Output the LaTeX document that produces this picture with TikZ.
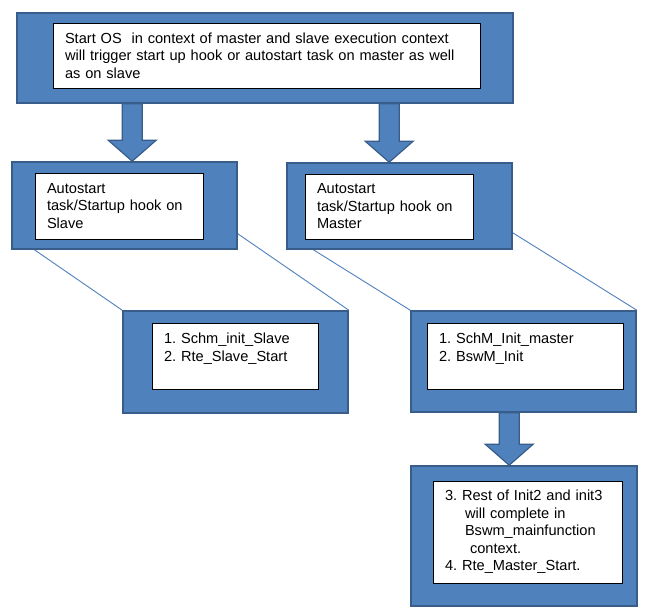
\documentclass[tikz,border=0pt]{standalone}
\usepackage{fontspec}
\setmainfont{Liberation Sans}
\usetikzlibrary{calc,backgrounds}
\definecolor{boxblue}{RGB}{79,129,189}
\definecolor{boxedge}{RGB}{56,93,138}
\tikzset{
  obox/.style={rectangle,draw=boxedge,fill=boxblue,line width=1.6pt,inner sep=0pt},
  ibox/.style={rectangle,draw=black,fill=white,line width=0.9pt,inner xsep=12pt,inner ysep=0pt,
    align=left,font=\fontsize{14.6}{17.5}\selectfont\frenchspacing},
  link/.style={draw=boxblue,line width=0.9pt},
  barrow/.style={draw=boxedge,fill=boxblue,line width=1.2pt,line join=miter,
    to path={let \p1=(\tikztostart), \p2=(\tikztotarget) in
      (\x1-10pt,\y1) -- (\x1-10pt,\y2+21pt) -- (\x1-24pt,\y2+21pt) -- (\x1,\y2)
      -- (\x1+24pt,\y2+21pt) -- (\x1+10pt,\y2+21pt) -- (\x1+10pt,\y1) -- cycle}}
}

\begin{document}
\begin{tikzpicture}[x=1pt,y=-1pt]
\useasboundingbox (0,0) rectangle (662,616);
% start OS
\node[obox, minimum width=496pt, minimum height=90pt] (top) at (265,58) {};
\node[ibox, text width=403pt, minimum height=65pt] (toptext) at (266.5,55.5)
  {Start OS\ \ in context of master and slave execution context\\will trigger start up hook or autostart task on master as well\\as on slave};
% slave / master
\node[obox, minimum width=225pt, minimum height=87pt] (slave) at (124.5,205.5) {};
\node[ibox, text width=144pt, minimum height=66pt] (slavetext) at (119,206)
  {Autostart\\task/Startup hook on\\Slave};
\node[obox, minimum width=225pt, minimum height=86pt] (master) at (399.5,206) {};
\node[ibox, text width=144pt, minimum height=65pt] (mastertext) at (389,206.5)
  {Autostart\\task/Startup hook on\\Master};
% init steps
\node[obox, minimum width=225pt, minimum height=102pt] (slaveinit) at (235.5,362) {};
\node[ibox, text width=142pt, minimum height=66pt] (slaveinittext) at (235,356)
  {1. Schm\_init\_Slave\\2. Rte\_Slave\_Start\\\mbox{}};
\node[obox, minimum width=225pt, minimum height=101pt] (masterinit) at (523.5,361.5) {};
\node[ibox, text width=172pt, minimum height=66pt] (masterinittext) at (525,356)
  {1. SchM\_Init\_master\\2. BswM\_Init\\\mbox{}};
\node[obox, minimum width=226pt, minimum height=140pt] (rest) at (524,536) {};
\node[ibox, text width=165pt, minimum height=102pt] (resttext) at (527.5,532)
  {3. Rest of Init2 and init3\\\hspace*{20pt}will complete in\\\hspace*{20pt}Bswm\_mainfunction\\\hspace*{25pt}context.\\4. Rte\_Master\_Start.};
% block arrows
\draw[barrow] ($(top.south west)+(116,0)$) to (slave.north);
\draw[barrow] ($(top.south west)+(373,0)$) to (master.north);
\draw[barrow] ($(masterinit.south west)+(99,0)$) to (rest.north);
% callout lines
\begin{pgfonlayer}{background}
\fill[white] (0,0) rectangle (662,616);
\draw[link] ($(slave.south west)+(0,-16)$) -- (slaveinit.north west);
\draw[link] ($(slave.south east)+(0,-16)$) -- (slaveinit.north east);
\draw[link] ($(master.south west)+(0,-17)$) -- (masterinit.north west);
\draw[link] ($(master.south east)+(0,-17)$) -- (masterinit.north east);
\end{pgfonlayer}
\end{tikzpicture}
\end{document}
